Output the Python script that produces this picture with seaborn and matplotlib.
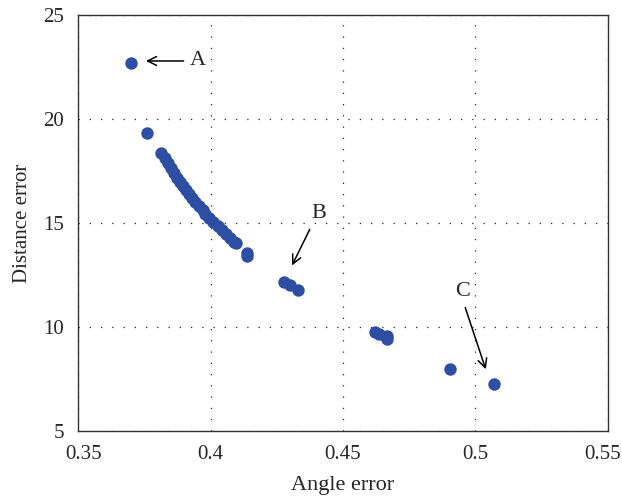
import matplotlib
matplotlib.use('Agg')
import matplotlib.pyplot as plt
import matplotlib.transforms as mtransforms
import seaborn as sns
import pandas as pd

angle_err = [0.3701, 0.3761,
             0.3814, 0.3830, 0.3841, 0.3852, 0.3864, 0.3875, 0.3886, 0.3898,
             0.3909, 0.3920, 0.3932, 0.3943, 0.3958, 0.3970, 0.3981, 0.3996,
             0.4011, 0.4027, 0.4042, 0.4057, 0.4072, 0.4087, 0.4095,
             0.4136, 0.4136,
             0.4277, 0.4299, 0.4330,
             0.4621, 0.4636, 0.4667, 0.4667,
             0.4905, 0.5068]
dist_err = [22.69, 19.33,
            18.37, 18.13, 17.88, 17.64, 17.40, 17.16, 16.97, 16.78,
            16.59, 16.39, 16.20, 16.01, 15.82, 15.63, 15.43, 15.24,
            15.05, 14.86, 14.66, 14.47, 14.28, 14.09, 14.04,
            13.56, 13.42,
            12.16, 12.02, 11.78,
            9.76, 9.66, 9.42, 9.57,
            7.98, 7.26]

labels = ['A', 'B', 'C']
label_xy = [(0.3951, 22.79), (0.4409, 15.48), (0.4951, 11.73)]
tail_xy = [(0.3909, 22.79), (0.4379, 14.81), (0.4958, 11.06)]
head_xy = [(0.3746, 22.79), (0.4303, 12.84), (0.5042, 7.84)]

xticks = [0.35, 0.4, 0.45, 0.5, 0.55]
xticklabels = ['0.35', '0.4', '0.45', '0.5', '0.55']
yticks = [5, 10, 15, 20, 25]

df = pd.DataFrame({'angle': angle_err, 'dist': dist_err})

sns.set_style('white')
plt.rcParams['font.family'] = ['Liberation Serif', 'DejaVu Serif']

fig = plt.figure(figsize=(6.22, 4.99), dpi=100)
ax = fig.add_axes([78 / 622, 1 - 431 / 499, 530 / 622, 416 / 499])

sns.scatterplot(data=df, x='angle', y='dist', ax=ax, s=80, color='#2e4ea3',
                linewidth=0, zorder=3)

for lab, txy, t0, h0 in zip(labels, label_xy, tail_xy, head_xy):
    ax.annotate('', xy=h0, xytext=t0,
                arrowprops=dict(arrowstyle='->', color='black', lw=1.1,
                                mutation_scale=16))
    ax.text(txy[0], txy[1], lab, fontsize=16, ha='center', va='center')

ax.set_xlim(0.35, 0.55)
ax.set_ylim(5, 25)
ax.set_xticks(xticks)
ax.set_xticklabels(xticklabels)
ax.set_yticks(yticks)
ax.tick_params(direction='in', length=4, width=1, labelsize=15, color='#333333',
               top=False, right=False, pad=10)
ax.grid(True, linestyle=(0, (1, 8)), color='#222222', linewidth=0.9)
for sp in ax.spines.values():
    sp.set_color('#333333')
    sp.set_linewidth(1.0)
ax.set_xlabel('Angle error', fontsize=16, labelpad=9)
ax.set_ylabel('Distance error', fontsize=15, labelpad=8)

# nudge end labels inward, as in the original
xl = ax.get_xticklabels()
xl[0].set_transform(xl[0].get_transform() +
                    mtransforms.ScaledTranslation(6 / 100, 0, fig.dpi_scale_trans))
xl[-1].set_transform(xl[-1].get_transform() +
                     mtransforms.ScaledTranslation(-5 / 100, 0, fig.dpi_scale_trans))

fig.savefig('out.png', dpi=100)
